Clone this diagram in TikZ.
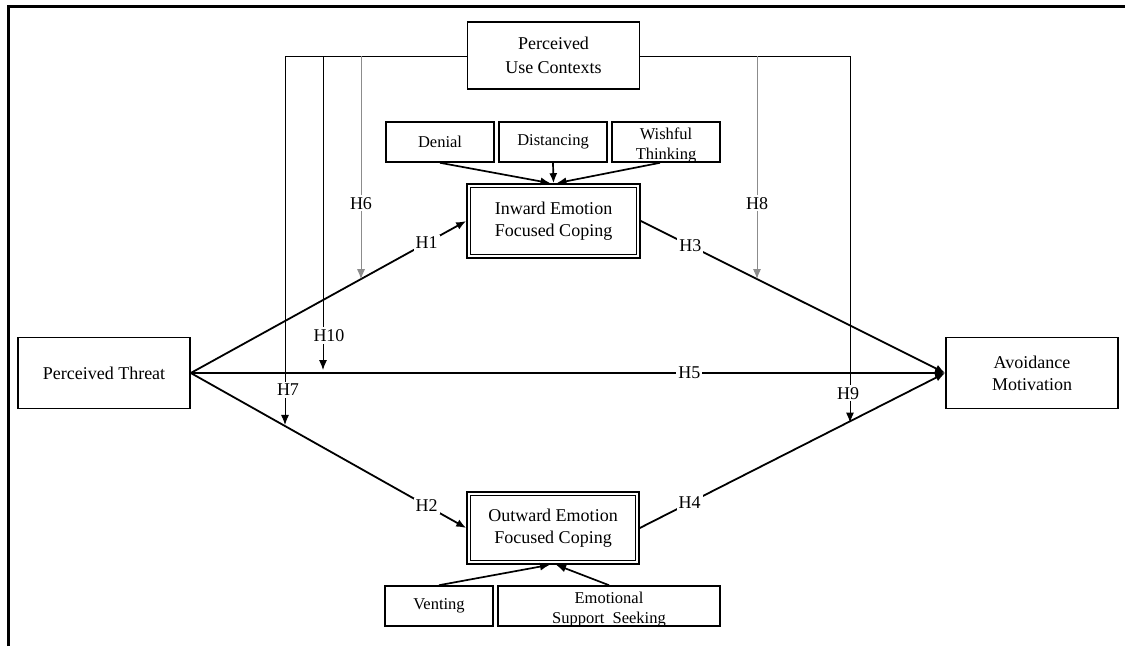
\documentclass[tikz,border=0pt]{standalone}
\usepackage{fontspec}
\setmainfont{Liberation Serif}
\usetikzlibrary{arrows.meta,calc}
\begin{document}
\begin{tikzpicture}[x=1pt,y=-1pt,
  box/.style={draw,line width=1.6pt,align=center,inner sep=0pt,font=\fontsize{18}{22}\selectfont},
  sbox/.style={draw,line width=1.6pt,align=center,inner sep=0pt,font=\fontsize{16.5}{20}\selectfont},
  stxt/.style={align=center,inner sep=0pt,font=\fontsize{16.5}{20}\selectfont},
  hyp/.style={line width=1.8pt,-{Latex[length=10pt,width=8pt]}},
  sub/.style={line width=1.7pt,-{Latex[length=10pt,width=8pt]}},
  mod/.style={line width=1pt,-{Latex[length=10pt,width=8pt]}},
  gmod/.style={mod,draw=black!45},
  lab/.style={fill=white,inner sep=2pt,text=black,font=\fontsize{18}{22}\selectfont},
]
\useasboundingbox (0,0) rectangle (1125,646);
% frame
\draw[line width=3pt] (8,646) -- (8,6) -- (1125,6);

% nodes
\node[box,minimum width=172pt,minimum height=67pt,font=\fontsize{18}{24}\selectfont] (puc) at (553.5,55.5) {Perceived\\Use Contexts};
\node[sbox,minimum width=108pt,minimum height=40pt] (den) at (440,142) {Denial};
\node[sbox,minimum width=108pt,minimum height=40pt] (dis) at (553,142) {Distancing};
\node[sbox,minimum width=108pt,minimum height=40pt] (wis) at (666,142) {};
\node[stxt] (wist) at ([yshift=-3pt]wis.center) {Wishful\\Thinking};
\node[box,minimum width=173pt,minimum height=74pt] (in) at (553.5,221) {Inward Emotion\\Focused Coping};
\node[box,minimum width=172pt,minimum height=71pt] (pt) at (104,373) {Perceived Threat};
\node[box,minimum width=172pt,minimum height=71pt] (av) at (1032,373) {Avoidance\\Motivation};
\node[box,minimum width=172pt,minimum height=72pt] (out) at (553,528) {Outward Emotion\\Focused Coping};
\node[sbox,minimum width=108pt,minimum height=40pt] (ven) at (439,606) {Venting};
\node[sbox,minimum width=222pt,minimum height=40pt] (ess) at (609,606) {};
\node[stxt] (esst) at ([yshift=-4pt]ess.center) {Emotional\\Support\ \ Seeking};

% inner borders of double boxes
\draw[line width=0.8pt] ([xshift=4pt,yshift=-4pt]in.north west) rectangle ([xshift=-4pt,yshift=4pt]in.south east);
\draw[line width=0.8pt] ([xshift=4pt,yshift=-4pt]out.north west) rectangle ([xshift=-4pt,yshift=4pt]out.south east);

% sub-dimension arrows
\draw[sub] (den.south) -- ([xshift=-3pt]in.north);
\draw[sub] (dis.south) -- (in.north);
\draw[sub] ([xshift=-6pt]wis.south) -- ([xshift=3pt]in.north);
\draw[sub] (ven.north) -- ([xshift=-3pt]out.south);
\draw[sub] (ess.north) -- ([xshift=3pt]out.south);

% main hypotheses
\draw[hyp] (pt.east) -- node[lab,pos=0.856]{H1} (in.west);
\draw[hyp] (pt.east) -- node[lab,pos=0.856]{H2} (out.west);
\draw[hyp] (in.east) -- node[lab,pos=0.163]{H3} (av.west);
\draw[hyp] (out.east) -- node[lab,pos=0.163]{H4} (av.west);
\draw[hyp] (pt.east) -- node[lab,pos=0.661]{H5} (av.west);

% moderator coordinates
\coordinate (m7) at (285,56);
\coordinate (m10) at (323,56);
\coordinate (m6) at (361,56);
\coordinate (m8) at (757,56);
\coordinate (m9) at (850,56);
\coordinate (e6) at ($(pt.east)!0.617!(in.west)$);
\coordinate (e7) at ($(pt.east)!0.335!(out.west)$);
\coordinate (e10) at ($(pt.east)!0.176!(av.west)$);
\coordinate (e8) at ($(in.east)!0.382!(av.west)$);
\coordinate (e9) at ($(out.east)!0.68!(av.west)$);

% top connector lines
\draw[line width=1pt] (puc.west |- m7) -- (m7);
\draw[line width=1pt] (puc.east |- m9) -- (m9);

% moderators
\draw[mod] (m7) -- node[lab,pos=0.905,xshift=3pt]{H7} (m7 |- e7);
\draw[mod] (m10) -- node[lab,pos=0.89,xshift=6pt]{H10} ([yshift=3pt]m10 |- e10);
\draw[gmod] (m6) -- node[lab,pos=0.66]{H6} (m6 |- e6);
\draw[gmod] (m8) -- node[lab,pos=0.66]{H8} (m8 |- e8);
\draw[mod] (m9) -- node[lab,pos=0.92,xshift=-2pt]{H9} (m9 |- e9);
\end{tikzpicture}
\end{document}
